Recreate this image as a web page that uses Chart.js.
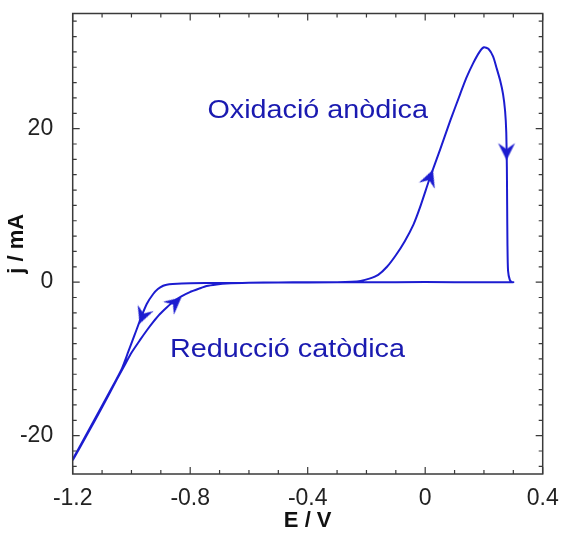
<!DOCTYPE html>
<html>
<head>
<meta charset="utf-8">
<script src="https://cdn.jsdelivr.net/npm/chart.js@4"></script>
<style>
  html, body { margin: 0; padding: 0; background: #fff; }
  #wrap { width: 561px; height: 534px; position: relative; }
</style>
</head>
<body>
<div id="wrap"><canvas id="c"></canvas></div>
<script>
// ---- data ----
// forward scan: -1.2 V -> +0.3 V
const E_fwd = [-1.2, -1.15, -1.1, -1.05, -1.02, -1.0, -0.97, -0.948, -0.925, -0.903, -0.88, -0.858, -0.83, -0.801, -0.77, -0.744, -0.71, -0.676, -0.6, -0.5, -0.4, -0.3, -0.25, -0.22, -0.19, -0.16, -0.13, -0.1, -0.07, -0.04, -0.018, 0.016, 0.051, 0.085, 0.119, 0.14, 0.163, 0.185, 0.2, 0.215, 0.231, 0.243, 0.255, 0.265, 0.272, 0.276, 0.278, 0.279, 0.28, 0.282, 0.288, 0.295];
const j_fwd = [-23.2, -19.8, -16.3, -12.7, -10.6, -9.2, -7.5, -6.3, -5.15, -4.15, -3.3, -2.55, -1.85, -1.3, -0.85, -0.5, -0.3, -0.17, -0.08, -0.04, -0.02, 0, 0.05, 0.15, 0.45, 0.95, 2.0, 3.5, 5.3, 7.5, 9.7, 13.6, 17.3, 21.0, 24.5, 26.6, 28.5, 30.0, 30.6, 30.4, 29.4, 27.9, 26.3, 24.5, 22.3, 19.5, 15.0, 10.0, 5.0, 1.5, 0.3, 0];
// reverse scan: +0.3 V -> -1.2 V
const E_rev = [0.3, 0.1, -0.1, -0.3, -0.5, -0.7, -0.8, -0.86, -0.88, -0.892, -0.91, -0.926, -0.948, -0.965, -0.988, -1.011, -1.033, -1.07, -1.12, -1.16, -1.2];
const j_rev = [0, 0, 0, -0.02, -0.05, -0.1, -0.15, -0.25, -0.33, -0.47, -0.9, -1.55, -2.85, -4.4, -6.75, -9.1, -11.3, -14.0, -17.5, -20.3, -23.1];
// direction arrows on the curve
const arrowE = [0.016, 0.277, -0.962, -0.852];
const arrowJ = [13.6, 17.0, -4.4, -2.7];
const arrowAngle = [21, 180, 201, 50];
// annotations
const noteText = ['Oxidació anòdica', 'Reducció catòdica'];
const noteE = [-0.366, -0.469];
const noteJ = [21.4, -9.8];
// axes
const xTicks = [-1.2, -0.8, -0.4, 0, 0.4];
const yTicks = [-20, 0, 20];
const xMinor = [-1.1, -1.0, -0.9, -0.7, -0.6, -0.5, -0.3, -0.2, -0.1, 0.1, 0.2, 0.3];
const yMinor = [-24, -22, -18, -16, -14, -12, -10, -8, -6, -4, -2, 2, 4, 6, 8, 10, 12, 14, 16, 18, 22, 24, 26, 28, 30, 32, 34];

const LINE = '#1c1cd0';
const TEXT_BLUE = '#1a1ab0';
const FONT = "'Liberation Sans', Arial, Helvetica, sans-serif";

// stealth arrowhead used as point style
function makeArrow() {
  const cv = document.createElement('canvas');
  cv.width = 24; cv.height = 24;
  const g = cv.getContext('2d');
  g.fillStyle = LINE;
  g.beginPath();
  g.moveTo(12, 3.5);
  g.lineTo(20.5, 20.5);
  g.lineTo(12, 14.5);
  g.lineTo(3.5, 20.5);
  g.closePath();
  g.fill();
  return cv;
}
const arrowImg = makeArrow();

const pathData = E_fwd.map((e, i) => ({x: e, y: j_fwd[i]}))
  .concat(E_rev.map((e, i) => ({x: e, y: j_rev[i]})));
const arrowData = arrowE.map((e, i) => ({x: e, y: arrowJ[i]}));

function noPad(s) {
  s.paddingTop = 0; s.paddingBottom = 0; s.paddingLeft = 0; s.paddingRight = 0;
}

const framePlugin = {
  id: 'frame',
  afterDatasetsDraw(chart) {
    const {ctx, chartArea: a, scales: {x, y}} = chart;
    ctx.save();
    // annotations
    ctx.fillStyle = TEXT_BLUE;
    ctx.font = "25px " + FONT;
    ctx.textAlign = 'center';
    ctx.textBaseline = 'alphabetic';
    noteText.forEach((t, i) => {
      const px = x.getPixelForValue(noteE[i]);
      const py = y.getPixelForValue(noteJ[i]);
      ctx.save();
      ctx.translate(px, py);
      ctx.scale(1.15, 1);
      ctx.fillText(t, 0, 0);
      ctx.restore();
    });
    // frame
    ctx.strokeStyle = '#3a3a3a';
    ctx.lineWidth = 1.5;
    ctx.strokeRect(a.left, a.top, a.right - a.left, a.bottom - a.top);
    // inward ticks on all four sides
    ctx.lineWidth = 1.2;
    ctx.beginPath();
    const xt = (v, len) => {
      const p = x.getPixelForValue(v);
      ctx.moveTo(p, a.bottom); ctx.lineTo(p, a.bottom - len);
      ctx.moveTo(p, a.top); ctx.lineTo(p, a.top + len);
    };
    const yt = (v, len) => {
      const p = y.getPixelForValue(v);
      ctx.moveTo(a.left, p); ctx.lineTo(a.left + len, p);
      ctx.moveTo(a.right, p); ctx.lineTo(a.right - len, p);
    };
    xMinor.forEach(v => xt(v, 4));
    xTicks.forEach(v => xt(v, 7));
    yMinor.forEach(v => yt(v, 4));
    yTicks.forEach(v => yt(v, 7));
    ctx.stroke();
    ctx.restore();
  }
};

new Chart(document.getElementById('c'), {
  type: 'scatter',
  data: {
    datasets: [
      {
        data: pathData,
        showLine: true,
        borderColor: LINE,
        borderWidth: 2,
        tension: 0.2,
        pointRadius: 0,
        fill: false
      },
      {
        data: arrowData,
        showLine: false,
        pointStyle: arrowImg,
        pointRadius: 12,
        pointRotation: arrowAngle,
        pointBackgroundColor: LINE,
        pointBorderColor: LINE
      }
    ]
  },
  options: {
    responsive: true,
    maintainAspectRatio: false,
    animation: false,
    events: [],
    layout: { padding: { left: 0, top: 13.5, right: 18.3, bottom: 0 } },
    plugins: { legend: { display: false }, tooltip: { enabled: false } },
    scales: {
      x: {
        type: 'linear',
        min: -1.2,
        max: 0.4,
        afterBuildTicks: s => { s.ticks = xTicks.map(v => ({value: v})); },
        afterFit: s => { s.height = 60; noPad(s); },
        grid: { display: false },
        border: { display: false },
        ticks: {
          padding: 3,
          maxRotation: 0,
          autoSkip: false,
          color: '#222',
          font: { family: FONT, size: 23 },
          callback: v => (v === 0 ? '0' : Number(v).toFixed(1))
        },
        title: {
          display: true,
          text: 'E / V',
          color: '#111',
          padding: { top: 0, bottom: 0 },
          font: { family: FONT, size: 22, weight: 'bold' }
        }
      },
      y: {
        type: 'linear',
        min: -25,
        max: 35,
        afterBuildTicks: s => { s.ticks = yTicks.map(v => ({value: v})); },
        afterFit: s => { s.width = 72.7; noPad(s); },
        grid: { display: false },
        border: { display: false },
        ticks: {
          padding: 11.5,
          autoSkip: false,
          color: '#222',
          font: { family: FONT, size: 23 },
          callback: v => String(v)
        },
        title: {
          display: true,
          text: 'j / mA',
          color: '#111',
          padding: { top: 4, bottom: 0 },
          font: { family: FONT, size: 22, weight: 'bold' }
        }
      }
    }
  },
  plugins: [framePlugin]
});
</script>
</body>
</html>
